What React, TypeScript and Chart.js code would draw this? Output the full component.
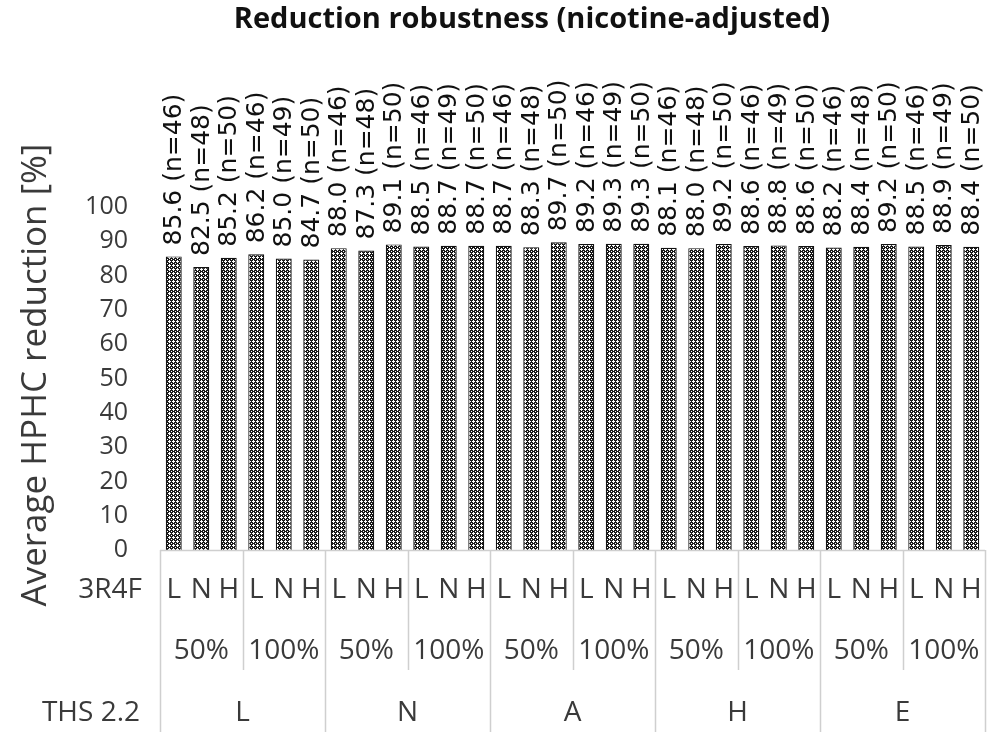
import React, { useEffect, useRef } from 'react';
import { Chart, registerables } from 'chart.js';

Chart.register(...registerables);

const chartTitle = 'Reduction robustness (nicotine-adjusted)';
const yAxisTitle = 'Average HPHC reduction [%]';
const refRowLabel = '3R4F';
const thsRowLabel = 'THS 2.2';
const thsGroups = ['L', 'N', 'A', 'H', 'E'];
const dilutions = ['50%', '100%'];
const refLevels = ['L', 'N', 'H'];

// values per THS group: 50% (L, N, H) then 100% (L, N, H)
const valuesL = [85.6, 82.5, 85.2, 86.2, 85.0, 84.7];
const valuesN = [88.0, 87.3, 89.1, 88.5, 88.7, 88.7];
const valuesA = [88.7, 88.3, 89.7, 89.2, 89.3, 89.3];
const valuesH = [88.1, 88.0, 89.2, 88.6, 88.8, 88.6];
const valuesE = [88.2, 88.4, 89.2, 88.5, 88.9, 88.4];
const counts50 = [46, 48, 50];
const counts100 = [46, 49, 50];
const yMin = 0;
const yMax = 100;
const yStep = 10;

const groupValues = [valuesL, valuesN, valuesA, valuesH, valuesE];
const values: number[] = groupValues.flat();
const counts: number[] = thsGroups.flatMap(() => [...counts50, ...counts100]);
const categories: string[] = thsGroups.flatMap((g) =>
  dilutions.flatMap((d) => refLevels.map((l) => `${g} ${d} ${l}`))
);
const levelOf: string[] = thsGroups.flatMap(() => dilutions.flatMap(() => refLevels));

const TEXT = '#3a3a3a';
const GRID = '#cfcfcf';

function makePattern(): CanvasPattern | string {
  const c = document.createElement('canvas');
  c.width = 4;
  c.height = 4;
  const g = c.getContext('2d');
  if (!g) return '#888';
  g.fillStyle = '#1a1a1a';
  g.fillRect(0, 0, 4, 4);
  g.fillStyle = '#ffffff';
  const whites = [
    [1, 0],
    [0, 1],
    [1, 1],
    [2, 1],
    [1, 2],
    [3, 3],
  ];
  whites.forEach(([px, py]) => g.fillRect(px, py, 1, 1));
  const p = g.createPattern(c, 'repeat');
  return p || '#888';
}

const overlayPlugin = {
  id: 'overlay',
  afterDatasetsDraw(chart: any) {
    const ctx: CanvasRenderingContext2D = chart.ctx;
    const area = chart.chartArea;
    const meta = chart.getDatasetMeta(0);
    const n = values.length;
    const cw = (area.right - area.left) / n;

    ctx.save();
    // value labels
    ctx.font = '25px "DejaVu Sans"';
    ctx.fillStyle = '#111';
    ctx.textAlign = 'left';
    ctx.textBaseline = 'middle';
    meta.data.forEach((bar: any, i: number) => {
      const txt = `${values[i].toFixed(1)} (n=${counts[i]})`;
      ctx.save();
      ctx.translate(bar.x + 1, bar.y - 11);
      ctx.rotate(-Math.PI / 2);
      ctx.fillText(txt, 0, 0);
      ctx.restore();
    });

    // axis line
    ctx.strokeStyle = GRID;
    ctx.lineWidth = 1.5;
    ctx.beginPath();
    ctx.moveTo(area.left, area.bottom + 0.5);
    ctx.lineTo(area.right, area.bottom + 0.5);
    ctx.stroke();

    // table vertical lines
    const cells = thsGroups.length * dilutions.length;
    for (let k = 0; k <= cells; k++) {
      const xk = Math.round(area.left + k * refLevels.length * cw) + 0.5;
      const bottom = k % dilutions.length === 0 ? area.bottom + 182 : area.bottom + 120;
      ctx.beginPath();
      ctx.moveTo(xk, area.bottom);
      ctx.lineTo(xk, bottom);
      ctx.stroke();
    }

    // table text
    ctx.fillStyle = TEXT;
    ctx.font = '28px "Open Sans"';
    ctx.textAlign = 'center';
    ctx.textBaseline = 'middle';
    meta.data.forEach((bar: any, i: number) => {
      ctx.fillText(levelOf[i], bar.x, area.bottom + 40);
    });
    for (let k = 0; k < cells; k++) {
      const cx = area.left + (k + 0.5) * refLevels.length * cw;
      ctx.fillText(dilutions[k % dilutions.length], cx, area.bottom + 101);
    }
    const gw = refLevels.length * dilutions.length * cw;
    thsGroups.forEach((g, gi) => {
      ctx.fillText(g, area.left + (gi + 0.5) * gw, area.bottom + 163);
    });
    ctx.textAlign = 'right';
    ctx.fillText(refRowLabel, 142, area.bottom + 40);
    ctx.fillText(thsRowLabel, 140, area.bottom + 163);

    // y axis title
    ctx.save();
    ctx.font = '35px "Open Sans"';
    ctx.textAlign = 'center';
    ctx.translate(36, 375);
    ctx.rotate(-Math.PI / 2);
    ctx.fillText(yAxisTitle, 0, 0);
    ctx.restore();

    // chart title
    ctx.fillStyle = '#111';
    ctx.font = 'bold 29px "Open Sans"';
    ctx.textAlign = 'center';
    ctx.fillText(chartTitle, 532, 20);
    ctx.restore();
  },
};

export default function App() {
  const ref = useRef<HTMLCanvasElement | null>(null);
  useEffect(() => {
    if (!ref.current) return;
    const pattern = makePattern();
    const chart = new Chart(ref.current, {
      type: 'bar',
      data: {
        labels: categories,
        datasets: [
          {
            data: values,
            backgroundColor: pattern as any,
            borderColor: '#111',
            borderWidth: 1.2,
            barPercentage: 0.58,
            categoryPercentage: 1,
          },
        ],
      },
      options: {
        responsive: false,
        animation: false,
        layout: { padding: { left: 0, top: 207, right: 23, bottom: 190 } },
        plugins: {
          legend: { display: false },
          title: { display: false },
          tooltip: { enabled: false },
        },
        scales: {
          x: { display: false, offset: true },
          y: {
            min: yMin,
            max: yMax,
            border: { display: false },
            grid: { display: false, drawTicks: false },
            ticks: {
              stepSize: yStep,
              padding: 32,
              color: TEXT,
              font: { family: '"Open Sans"', size: 25 },
            },
            afterFit: (scale: any) => {
              scale.width = 160;
            },
          },
        },
      },
      plugins: [overlayPlugin],
    });
    return () => chart.destroy();
  }, []);
  return (
    <div style={{ position: 'absolute', left: 0, top: 0, width: 1008, height: 740, background: '#fff' }}>
      <canvas ref={ref} width={1008} height={740} style={{ display: 'block' }} />
    </div>
  );
}
